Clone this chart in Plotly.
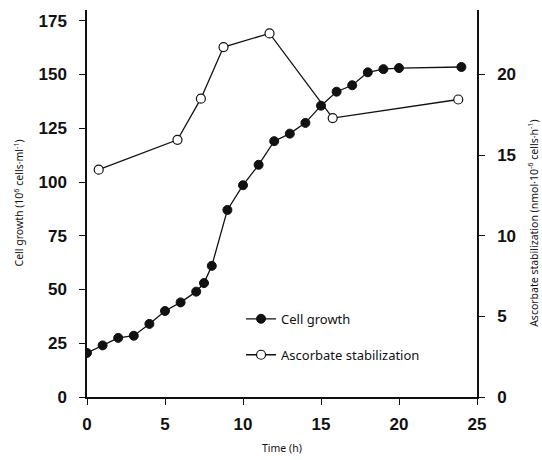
import plotly.graph_objects as go

# Cell growth (left axis, filled circles)
growth_time = [0, 1, 2, 3, 4, 5, 6, 7, 7.5, 8, 9, 10, 11, 12, 13, 14, 15, 16, 17, 18, 19, 20, 24]
growth_vals = [20.5, 24, 27.5, 28.5, 34, 40, 44, 49, 53, 61, 87, 98.5, 108, 119, 122.5, 127.5, 135.5, 142, 145, 151, 152.5, 153, 153.5]

# Ascorbate stabilization (right axis, open circles)
asc_time = [0.75, 5.8, 7.3, 8.75, 11.7, 15.75, 23.8]
asc_vals = [14.1, 15.95, 18.5, 21.7, 22.55, 17.3, 18.45]

x_ticks = [0, 5, 10, 15, 20, 25]
y1_ticks = [0, 25, 50, 75, 100, 125, 150, 175]
y2_ticks = [0, 5, 10, 15, 20]

black = "#111111"
tickfont = dict(family="Liberation Sans, Arial, sans-serif", size=17, color=black, weight="bold")
titlefont = dict(family="Noto Sans, sans-serif", size=10.5, color=black)
legfont = dict(family="Noto Sans, sans-serif", size=13, color=black)

fig = go.Figure()
fig.add_trace(go.Scatter(
    x=growth_time, y=growth_vals, name="Cell growth", mode="lines+markers",
    line=dict(color=black, width=1.3),
    marker=dict(symbol="circle", size=9, color=black, line=dict(color=black, width=1)),
    yaxis="y", legend="legend"))
fig.add_trace(go.Scatter(
    x=asc_time, y=asc_vals, name="Ascorbate stabilization", mode="lines+markers",
    line=dict(color=black, width=1.3),
    marker=dict(symbol="circle", size=9, color="white", line=dict(color=black, width=1.2)),
    yaxis="y2", legend="legend2"))

axis_common = dict(showline=True, linecolor=black, linewidth=1.5, ticks="outside",
                   ticklen=6, tickwidth=1.3, tickcolor=black, showgrid=False,
                   zeroline=False, tickfont=tickfont)

leg_common = dict(xanchor="left", yanchor="middle", bgcolor="rgba(0,0,0,0)",
                  itemwidth=30, font=legfont)

fig.update_layout(
    width=542, height=460,
    margin=dict(l=87, r=65, t=10, b=63),
    paper_bgcolor="white", plot_bgcolor="white",
    showlegend=True,
    legend=dict(x=0.395, y=0.202, **leg_common),
    legend2=dict(x=0.395, y=0.109, **leg_common),
    xaxis=dict(range=[0, 25], tickvals=x_ticks, ticklabelstandoff=5, **axis_common),
    yaxis=dict(range=[0, 180], tickvals=y1_ticks, ticklabelstandoff=9, **axis_common),
    yaxis2=dict(range=[0, 24], tickvals=y2_ticks, overlaying="y", side="right",
                ticklabelstandoff=9, **axis_common),
    annotations=[
        dict(text="Time (h)", xref="paper", yref="paper", x=0.5, y=0,
             yshift=-51, showarrow=False, font=titlefont, yanchor="middle"),
        dict(text="Cell growth (10<sup>6</sup> cells·ml<sup>-1</sup>)", xref="paper", yref="paper",
             x=0, xshift=-69, y=0.5, textangle=-90, showarrow=False, font=titlefont,
             xanchor="center", yanchor="middle"),
        dict(text="Ascorbate stabilization (nmol·10<sup>-6</sup> cells·h<sup>-1</sup>)", xref="paper",
             yref="paper", x=1, xshift=56, y=0.45, textangle=-90, showarrow=False,
             font=titlefont, xanchor="center", yanchor="middle"),
    ],
)

fig.write_html("out.html")
